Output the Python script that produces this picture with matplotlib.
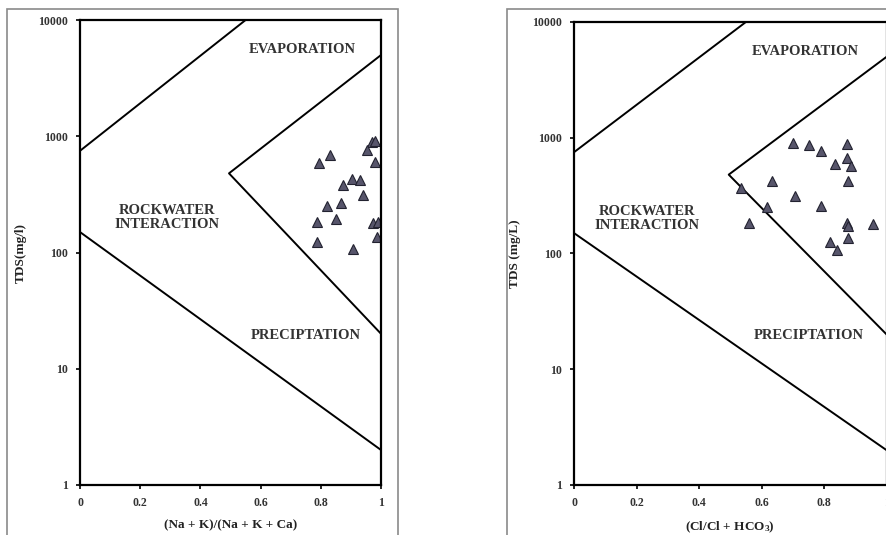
import matplotlib
matplotlib.use("Agg")
import matplotlib.pyplot as plt
from matplotlib.patches import Rectangle

plt.rcParams['font.family'] = ['Liberation Serif', 'DejaVu Serif']
plt.rcParams['font.weight'] = 'bold'
plt.rcParams['mathtext.default'] = 'regular'

# Gibbs boundary lines (x ratio, TDS)
upper_x = [0.0, 0.55]
upper_y = [750, 10000]
mid_x = [1.0, 0.495, 1.0]
mid_y = [5000, 480, 20]
lower_x = [0.0, 1.0]
lower_y = [150, 2]

# left panel samples: (Na + K)/(Na + K + Ca)
na_ratio = [0.794, 0.83, 0.97, 0.98, 0.953, 0.98, 0.874, 0.903, 0.93, 0.94,
            0.82, 0.867, 0.787, 0.85, 0.975, 0.99, 0.787, 0.987, 0.907]
na_tds = [590, 690, 890, 920, 760, 600, 380, 430, 420, 310,
          250, 265, 183, 195, 180, 182, 123, 135, 108]

# right panel samples: Cl/(Cl + HCO3)
cl_ratio = [0.70, 0.753, 0.79, 0.873, 0.873, 0.835, 0.886, 0.878, 0.633, 0.533,
            0.707, 0.619, 0.79, 0.561, 0.873, 0.878, 0.958, 0.819, 0.878, 0.84]
cl_tds = [906, 865, 773, 883, 664, 593, 570, 425, 425, 366,
          314, 254, 257, 182, 182, 172, 179, 126, 135, 107]

x_ticks = [0, 0.2, 0.4, 0.6, 0.8, 1]
x_ticklabels = ['0', '0.2', '0.4', '0.6', '0.8', '1']
y_ticks = [1, 10, 100, 1000, 10000]
y_ticklabels = ['1', '10', '100', '1000', '10000']


def draw_panel(ax, xs, ys, xlabel, ylabel, rock_x):
    ax.set_yscale('log')
    ax.set_xlim(0, 1)
    ax.set_ylim(1, 10000)
    ax.plot(upper_x, upper_y, color='black', lw=1.4)
    ax.plot(mid_x, mid_y, color='black', lw=1.4)
    ax.plot(lower_x, lower_y, color='black', lw=1.4)
    ax.plot(xs, ys, linestyle='none', marker='^', markersize=7.5,
            markerfacecolor='#57556b', markeredgecolor='#222230', markeredgewidth=0.8)

    txt = dict(ha='center', va='center', fontsize=10.5, fontweight='bold', color='#333333')
    ax.text(0.74, 5600, 'EVAPORATION', **txt)
    ax.text(rock_x, 200, 'ROCKWATER\nINTERACTION', linespacing=1.1, **txt)
    ax.text(0.75, 19.5, 'PRECIPTATION', **txt)

    ax.set_xticks(x_ticks)
    ax.set_xticklabels(x_ticklabels)
    ax.set_yticks(y_ticks)
    ax.set_yticklabels(y_ticklabels)
    ax.yaxis.set_minor_locator(matplotlib.ticker.NullLocator())
    ax.tick_params(direction='out', length=3, width=1.2, labelsize=8.5, pad=6,
                   labelcolor='#333333')
    for lab in ax.get_xticklabels() + ax.get_yticklabels():
        lab.set_fontweight('bold')
    for sp in ax.spines.values():
        sp.set_linewidth(1.6)
    ax.set_xlabel(xlabel, fontsize=9.5, fontweight='bold', labelpad=7, color='#222222')
    ax.set_ylabel(ylabel, fontsize=9.5, fontweight='bold', labelpad=8, color='#222222')


fig = plt.figure(figsize=(8.86, 5.35), dpi=100)

# outer picture frames
fig.patches.append(Rectangle((0.008, -0.01), 0.441, 0.994, transform=fig.transFigure,
                             fill=False, edgecolor='#8a8a8a', lw=1.2))
fig.patches.append(Rectangle((0.572, -0.01), 0.5, 0.994, transform=fig.transFigure,
                             fill=False, edgecolor='#8a8a8a', lw=1.2))

ax1 = fig.add_axes([0.0903, 0.0935, 0.3397, 0.869])
draw_panel(ax1, na_ratio, na_tds, '(Na + K)/(Na + K + Ca)', 'TDS(mg/l)', 0.29)

ax2 = fig.add_axes([0.6479, 0.0935, 0.3527, 0.8654])
draw_panel(ax2, cl_ratio, cl_tds, '(Cl/Cl + HCO$_3$)', 'TDS (mg/L)', 0.235)

fig.savefig('out.png', dpi=100)
